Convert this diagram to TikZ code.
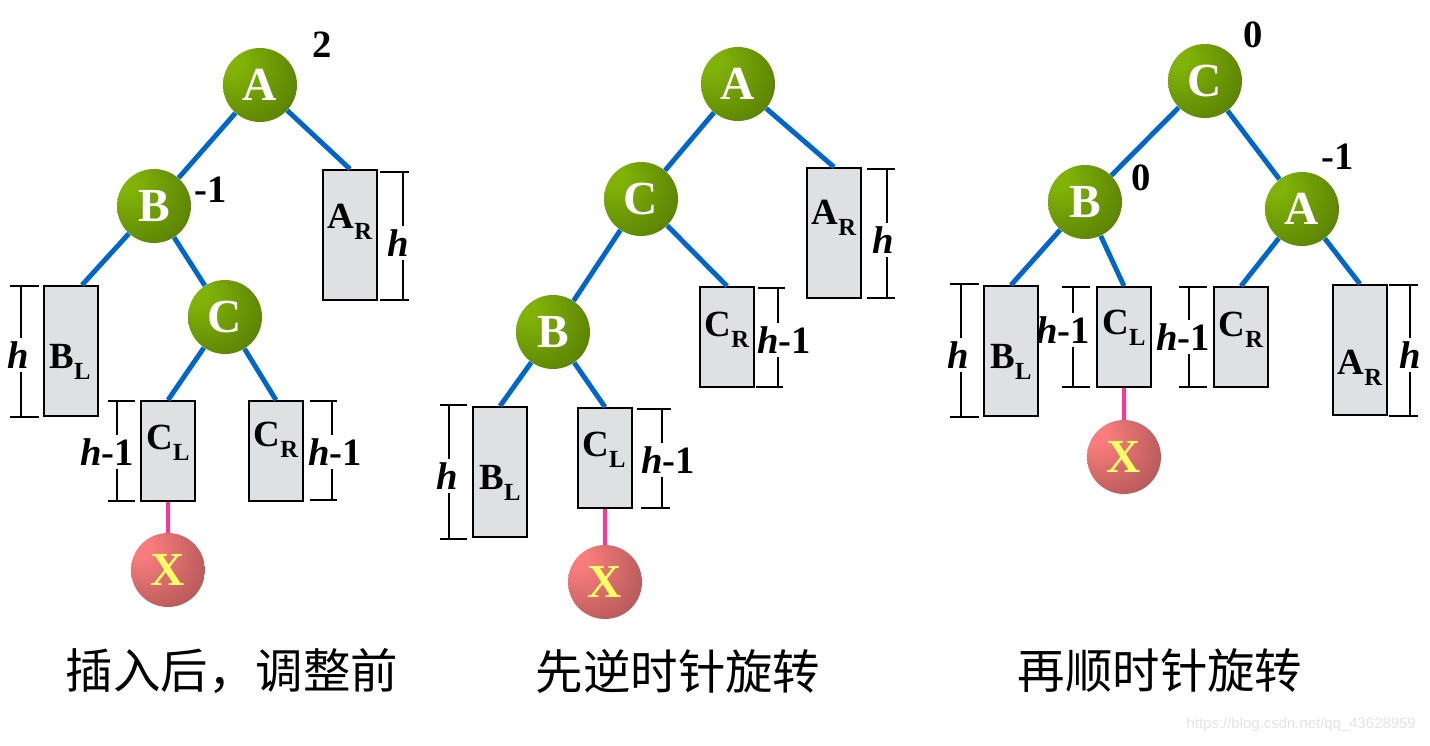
\documentclass[tikz,border=0pt]{standalone}
\usepackage{fontspec}
\setmainfont{Liberation Serif}
\setsansfont{Liberation Sans}
\newfontfamily\cjk{Noto Sans CJK SC}
\usepackage{tikz}

\definecolor{gnlight}{RGB}{128,178,8}
\definecolor{gndark}{RGB}{52,80,0}
\definecolor{rdlight}{RGB}{248,124,124}
\definecolor{rddark}{RGB}{112,52,52}
\definecolor{edgeblue}{RGB}{0,102,204}
\definecolor{newpink}{RGB}{255,51,153}
\definecolor{boxgray}{RGB}{222,224,226}
\definecolor{xyellow}{RGB}{255,255,102}

\pgfdeclareradialshading{greenball}{\pgfpoint{-22bp}{18bp}}{color(0bp)=(gnlight); color(8bp)=(gnlight); color(72bp)=(gndark)}
\pgfdeclareradialshading{redball}{\pgfpoint{-22bp}{18bp}}{color(0bp)=(rdlight); color(8bp)=(rdlight); color(72bp)=(rddark)}

\newcommand{\lowsub}[1]{\raisebox{-0.3em}{\fontsize{14}{14}\selectfont #1}}

\tikzset{
  avl/.style={circle, minimum size=1.48cm, inner sep=0pt, shading=greenball, text=white, font=\fontsize{27}{30}\selectfont\bfseries},
  newkey/.style={circle, minimum size=1.48cm, inner sep=0pt, shading=redball, text=xyellow, font=\fontsize{27}{30}\selectfont\bfseries},
  subtree/.style={draw, line width=1.1pt, fill=boxgray, minimum width=1.08cm, inner sep=0pt},
  tallbox/.style={subtree, minimum height=2.6cm},
  shortbox/.style={subtree, minimum height=2cm},
  boxlbl/.style={font=\fontsize{21}{24}\selectfont\bfseries, inner sep=0pt},
  balance/.style={font=\fontsize{22}{24}\selectfont\bfseries},
  dimlbl/.style={font=\fontsize{22}{24}\selectfont\bfseries, inner sep=2pt},
  dimln/.style={line width=1.1pt},
  treeedge/.style={line width=2.8pt, edgeblue},
  insedge/.style={line width=2.8pt, newpink},
  caption/.style={font=\cjk\fontsize{27}{32}\selectfont}
}

\begin{document}
\begin{tikzpicture}[x=0.02cm, y=-0.02cm]
  \useasboundingbox (0,0) rectangle (1430,745);

  % before rotation
  \node[tallbox] (ar1) at (350,235) {};
  \node[tallbox] (bl1) at (71,351) {};
  \node[shortbox] (cl1) at (168,451) {};
  \node[shortbox] (cr1) at (276,451) {};
  \node[avl] (a1) at (260,85) {A};
  \node[avl] (b1) at (154,206) {B};
  \node[avl] (c1) at (225,317) {C};
  \node[newkey] (x1) at (168,570) {X};

  \draw[treeedge] (a1) -- (b1);
  \draw[treeedge] (a1) -- (ar1.north);
  \draw[treeedge] (b1) -- ([xshift=0.22cm]bl1.north);
  \draw[treeedge] (b1) -- (c1);
  \draw[treeedge] (c1) -- (cl1.north);
  \draw[treeedge] (c1) -- (cr1.north);
  \draw[insedge] (cl1.south) -- (x1);

  \node[balance] (f1a) at (322,45) {2};
  \node[balance] (f1b) at (211,190) {-1};

  \node[boxlbl] (t1ar) at (350,222) {A\lowsub{R}};
  \node[boxlbl] (t1bl) at (70,362) {B\lowsub{L}};
  \node[boxlbl] (t1cl) at (168,443) {C\lowsub{L}};
  \node[boxlbl] (t1cr) at (276,440) {C\lowsub{R}};

  \node[dimlbl] (h1ar) at (398,243) {\textit{h}};
  \draw[dimln] (380,172) -- (409,172) (380,300) -- (409,300)
    (403,172) -- (403,172 |- h1ar.north) (403,300) -- (403,300 |- h1ar.south);
  \node[dimlbl] (h1bl) at (18,355) {\textit{h}};
  \draw[dimln] (10,286) -- (39,286) (10,417) -- (39,417)
    (21,286) -- (21,286 |- h1bl.north) (21,417) -- (21,417 |- h1bl.south);
  \node[dimlbl] (h1cl) at (107,452) {\textit{h}-1};
  \draw[dimln] (108,401) -- (135,401) (108,501) -- (135,501)
    (117,401) -- (117,401 |- h1cl.north) (117,501) -- (117,501 |- h1cl.south);
  \node[dimlbl] (h1cr) at (335,452) {\textit{h}-1};
  \draw[dimln] (310,401) -- (337,401) (310,500) -- (337,500)
    (332,401) -- (332,401 |- h1cr.north) (332,500) -- (332,500 |- h1cr.south);

  % left rotation
  \node[tallbox] (ar2) at (834,233) {};
  \node[shortbox] (cr2) at (727,337) {};
  \node[tallbox] (bl2) at (500,472) {};
  \node[shortbox] (cl2) at (605,458) {};
  \node[avl] (a2) at (738,84) {A};
  \node[avl] (c2) at (641,199) {C};
  \node[avl] (b2) at (553,332) {B};
  \node[newkey] (x2) at (605,582) {X};

  \draw[treeedge] (a2) -- (c2);
  \draw[treeedge] (a2) -- (ar2.north);
  \draw[treeedge] (c2) -- (b2);
  \draw[treeedge] (c2) -- (cr2.north);
  \draw[treeedge] (b2) -- (bl2.north);
  \draw[treeedge] (b2) -- (cl2.north);
  \draw[insedge] (cl2.south) -- (x2);

  \node[boxlbl] (t2ar) at (834,218) {A\lowsub{R}};
  \node[boxlbl] (t2cr) at (727,330) {C\lowsub{R}};
  \node[boxlbl] (t2bl) at (500,483) {B\lowsub{L}};
  \node[boxlbl] (t2cl) at (604,450) {C\lowsub{L}};

  \node[dimlbl] (h2ar) at (883,240) {\textit{h}};
  \draw[dimln] (867,169) -- (895,169) (867,298) -- (895,298)
    (887,169) -- (887,169 |- h2ar.north) (887,298) -- (887,298 |- h2ar.south);
  \node[dimlbl] (h2cr) at (784,340) {\textit{h}-1};
  \draw[dimln] (758,288) -- (785,288) (756,387) -- (783,387)
    (778,288) -- (778,288 |- h2cr.north) (778,387) -- (778,387 |- h2cr.south);
  \node[dimlbl] (h2bl) at (447,476) {\textit{h}};
  \draw[dimln] (440,405) -- (467,405) (440,539) -- (467,539)
    (449,405) -- (449,405 |- h2bl.north) (449,539) -- (449,539 |- h2bl.south);
  \node[dimlbl] (h2cl) at (668,460) {\textit{h}-1};
  \draw[dimln] (637,409) -- (671,409) (641,508) -- (670,508)
    (662,409) -- (662,409 |- h2cl.north) (662,508) -- (662,508 |- h2cl.south);

  % right rotation
  \node[tallbox] (bl3) at (1011,351) {};
  \node[shortbox] (cl3) at (1124,337) {};
  \node[shortbox] (cr3) at (1241,337) {};
  \node[tallbox] (ar3) at (1360,350) {};
  \node[avl] (c3) at (1205,81) {C};
  \node[avl] (b3) at (1085,202) {B};
  \node[avl] (a3) at (1302,209) {A};
  \node[newkey] (x3) at (1124,457) {X};

  \draw[treeedge] (c3) -- (b3);
  \draw[treeedge] (c3) -- (a3);
  \draw[treeedge] (b3) -- (bl3.north);
  \draw[treeedge] (b3) -- (cl3.north);
  \draw[treeedge] (a3) -- (cr3.north);
  \draw[treeedge] (a3) -- (ar3.north);
  \draw[insedge] (cl3.south) -- (x3);

  \node[balance] (f3c) at (1253,35) {0};
  \node[balance] (f3b) at (1141,178) {0};
  \node[balance] (f3a) at (1338,157) {-1};

  \node[boxlbl] (t3bl) at (1011,362) {B\lowsub{L}};
  \node[boxlbl] (t3cl) at (1124,328) {C\lowsub{L}};
  \node[boxlbl] (t3cr) at (1241,330) {C\lowsub{R}};
  \node[boxlbl] (t3ar) at (1360,368) {A\lowsub{R}};

  \node[dimlbl] (h3bl) at (958,355) {\textit{h}};
  \draw[dimln] (950,284) -- (979,284) (950,417) -- (979,417)
    (961,284) -- (961,284 |- h3bl.north) (961,417) -- (961,417 |- h3bl.south);
  \node[dimlbl] (h3cl) at (1063,330) {\textit{h}-1};
  \draw[dimln] (1062,287) -- (1090,287) (1062,387) -- (1090,387)
    (1073,287) -- (1073,287 |- h3cl.north) (1073,387) -- (1073,387 |- h3cl.south);
  \node[dimlbl] (h3cr) at (1183,337) {\textit{h}-1};
  \draw[dimln] (1179,287) -- (1207,287) (1179,387) -- (1207,387)
    (1189,287) -- (1189,287 |- h3cr.north) (1189,387) -- (1189,387 |- h3cr.south);
  \node[dimlbl] (h3ar) at (1410,355) {\textit{h}};
  \draw[dimln] (1389,285) -- (1418,285) (1389,416) -- (1418,416)
    (1410,285) -- (1410,285 |- h3ar.north) (1410,416) -- (1410,416 |- h3ar.south);

  \node[caption] (cap1) at (232,671) {插入后，调整前};
  \node[caption] (cap2) at (678,671) {先逆时针旋转};
  \node[caption] (cap3) at (1160,671) {再顺时针旋转};

  \node[font=\sffamily\fontsize{8.5}{10}\selectfont, text=gray!22, anchor=east] (wm) at (1422,725) {https://blog.csdn.net/qq\_43628959};
\end{tikzpicture}
\end{document}
